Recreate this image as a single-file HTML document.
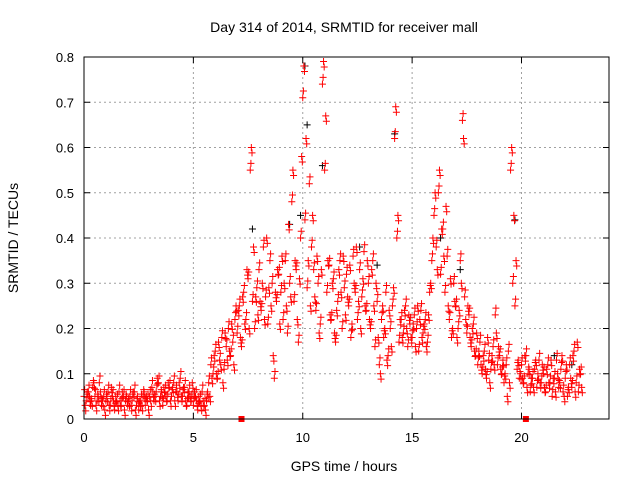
<!DOCTYPE html>
<html><head><meta charset="utf-8"><style>
body{margin:0;background:#fff}
svg{display:block;font-family:"Liberation Sans",sans-serif}
</style></head><body>
<svg id="chart" width="640" height="480" viewBox="0 0 640 480">
<text x="344" y="32" font-size="14" text-anchor="middle">Day 314 of 2014, SRMTID for receiver mall</text>
<text x="344" y="471" font-size="14" text-anchor="middle">GPS time / hours</text>
<text transform="translate(18,238) rotate(-90)" font-size="14" text-anchor="middle">SRMTID / TECUs</text>
<g id="grid"></g>
<g id="marks"></g>
<g id="axes"></g>
</svg>
<script>
const xTicks=[0,5,10,15,20];
const yTicks=[0,0.1,0.2,0.3,0.4,0.5,0.6,0.7,0.8];
const yTickLabels=["0","0.1","0.2","0.3","0.4","0.5","0.6","0.7","0.8"];
const seriesA=[.05,.04,.06,.03,.07,.05,.04,.08,.03,.05,
.04,.06,.03,.05,.02,.04,.06,.03,.05,.04,
.03,.05,.04,.06,.03,.02,.04,.05,.03,.04,
.05,.07,.04,.06,.08,.05,.03,.06,.04,.07,
.05,.08,.06,.04,.09,.05,.07,.03,.06,.04,
.03,.05,.02,.04,.06,.03,.04,.08,.12,.10,
.15,.09,.13,.18,.11,.16,.20,.14,.17,.22,
.19,.25,.16,.28,.22,.31,.55,.26,.20,.29,
.33,.24,.38,.27,.21,.35,.30,.09,.26,.32,
.28,.22,.35,.19,.30,.48,.26,.33,.17,.40,
.71,.44,.29,.52,.38,.33,.24,.30,.21,.74,
.55,.28,.34,.22,.31,.17,.26,.35,.20,.29,
.32,.25,.18,.36,.28,.22,.33,.27,.37,.24,
.30,.20,.35,.16,.26,.12,.22,.18,.28,.14,
.20,.25,.62,.40,.17,.22,.19,.25,.16,.21,
.18,.23,.20,.15,.24,.19,.22,.17,.28,.35,
.45,.38,.50,.32,.42,.28,.36,.22,.18,.30,
.25,.20,.35,.66,.27,.19,.23,.16,.21,.14,
.12,.17,.10,.15,.09,.13,.11,.16,.23,.12,
.14,.10,.08,.12,.15,.55,.30,.25,.11,.09,
.12,.08,.14,.10,.06,.09,.11,.07,.13,.08,
.10,.06,.12,.08,.05,.09,.13,.07,.11,.06,
.09,.05,.12,.07,.15,.08,.06,.10];
const seriesB=[.03,.06,.05,.04,.08,.03,.05,.06,.04,.02,
.05,.03,.07,.04,.05,.03,.04,.06,.02,.05,
.04,.03,.06,.02,.05,.04,.03,.06,.05,.02,
.04,.06,.05,.09,.04,.06,.07,.05,.08,.04,
.07,.04,.06,.08,.05,.07,.04,.06,.05,.08,
.06,.04,.05,.03,.04,.02,.06,.05,.09,.14,
.10,.17,.12,.08,.19,.13,.15,.21,.12,.25,
.24,.18,.27,.21,.33,.20,.60,.38,.27,.23,
.26,.30,.22,.40,.29,.25,.14,.28,.33,.21,
.36,.30,.25,.43,.27,.55,.35,.22,.31,.58,
.78,.62,.35,.25,.45,.27,.36,.19,.33,.79,
.67,.35,.23,.30,.19,.24,.33,.28,.36,.23,
.27,.34,.21,.30,.38,.26,.20,.31,.25,.35,
.22,.33,.25,.30,.18,.10,.25,.20,.13,.24,
.16,.29,.69,.45,.22,.18,.24,.20,.23,.18,
.21,.16,.25,.22,.18,.21,.16,.23,.30,.40,
.50,.33,.55,.42,.36,.47,.25,.31,.20,.26,
.18,.24,.30,.62,.22,.25,.18,.20,.15,.19,
.15,.12,.14,.11,.18,.08,.14,.12,.19,.16,
.11,.13,.10,.05,.08,.60,.45,.35,.13,.10,
.09,.14,.07,.11,.09,.07,.13,.10,.08,.12,
.07,.11,.08,.13,.09,.06,.10,.08,.14,.05,
.12,.07,.09,.14,.06,.17,.11,.07];
const blackTimes=[7.7,9.4,9.9,10.1,10.2,10.9,12.6,13.4,14.2,16.3,17.2,19.7,21.5,22.3];
const blackValues=[.42,.43,.45,.78,.65,.56,.38,.34,.63,.40,.33,.44,.14,.12];
const markerTimes=[7.2,20.2];
const markerValues=[0,0];
const X0=84,X1=609,Y0=419,Y1=57,XMAX=24,YMAX=0.8;
const sx=v=>X0+v/XMAX*(X1-X0);
const sy=v=>Y0-v/YMAX*(Y0-Y1);
const NS="http://www.w3.org/2000/svg";
function mk(tag,attrs,parent){const e=document.createElementNS(NS,tag);for(const k in attrs)e.setAttribute(k,attrs[k]);parent.appendChild(e);return e;}
const grid=document.getElementById('grid'),marks=document.getElementById('marks'),axes=document.getElementById('axes');
yTicks.forEach((v,i)=>{
 const y=sy(v);
 if(i>0&&i<yTicks.length-1){const g=mk('line',{x1:X0,x2:X1,y1:y,y2:y,stroke:'#a0a0a0','stroke-dasharray':'2,3'},grid);
 
 }
 const t=mk('text',{x:X0-10,y:y+5,'font-size':13,'text-anchor':'end'},axes);t.textContent=yTickLabels[i];
 
 
 mk('line',{x1:X0,x2:X0+6,y1:y,y2:y,stroke:'#000'},axes);
 mk('line',{x1:X1,x2:X1-6,y1:y,y2:y,stroke:'#000'},axes);
});
xTicks.forEach(v=>{
 const x=sx(v);
 if(v>0){const g=mk('line',{x1:x,x2:x,y1:Y0,y2:Y1,stroke:'#a0a0a0','stroke-dasharray':'2,3'},grid);
 
 }
 const t=mk('text',{x:x,y:Y0+23,'font-size':13,'text-anchor':'middle'},axes);t.textContent=String(v);
 
 
 mk('line',{x1:x,x2:x,y1:Y0,y2:Y0-6,stroke:'#000'},axes);
 mk('line',{x1:x,x2:x,y1:Y1,y2:Y1+6,stroke:'#000'},axes);
});
const frame=mk('rect',{x:X0,y:Y1,width:X1-X0,height:Y0-Y1,fill:'none',stroke:'#000'},axes);


function plus(t,v,color,name){
 const x=sx(t),y=sy(v);
 const p=mk('path',{d:`M${x-3.5},${y}h7M${x},${y-3.5}v7`,stroke:color,'stroke-width':1,fill:'none'},marks);
 
 
}
blackTimes.forEach((t,i)=>plus(t,blackValues[i],'#000','black-point'));
seriesA.forEach((v,i)=>{plus(i*0.1,v,'#f00','red-point');plus(i*0.1+0.03,v+0.015,'#f00','red-point');});
seriesB.forEach((v,i)=>{plus(i*0.1+0.05,v,'#f00','red-point');plus(i*0.1+0.08,v-0.012,'#f00','red-point');});
markerTimes.forEach((t,i)=>{
 const r=mk('rect',{x:sx(t)-3,y:sy(markerValues[i])-3,width:6,height:6,fill:'#f00'},marks);
 
 
});
</script>
</body></html>
